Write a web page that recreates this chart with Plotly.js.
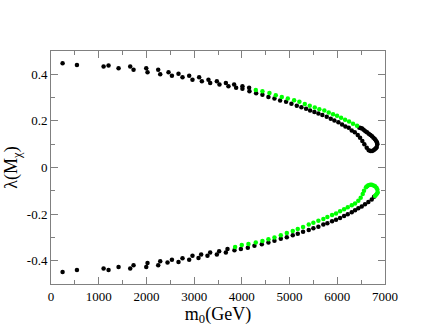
<!DOCTYPE html>
<html>
<head>
<meta charset="utf-8">
<script src="https://cdn.plot.ly/plotly-3.0.1.min.js"></script>
<style>
  html, body { margin: 0; padding: 0; background: #fff; }
  #chart { width: 433px; height: 335px; }
</style>
</head>
<body>
<div id="chart"></div>
<script>
// upper branch, black points (two rows on the left, then the loop at the tip)
const upperBlackX = [243, 544, 1102, 1206, 1416, 1660, 1730, 1996, 2023, 2247, 2289, 2463, 2534, 2672, 2756,
  2896, 2965, 3105, 3162, 3300, 3336, 3476, 3531, 3665, 3719, 3838, 3880, 4012, 4012, 4152,
  4159, 4299, 4431, 4557, 4683, 4802, 4927, 5039, 5151, 5248, 5346, 5430, 5520, 5604, 5687,
  5779, 5863, 5939, 6023, 6100, 6170, 6240, 6303, 6366, 6429, 6477, 6525, 6567, 6617, 6659,
  6695, 6728, 6760, 6785, 6810, 6827, 6839, 6835, 6827, 6808, 6785, 6758, 6728, 6695, 6659,
  6622, 6588, 6552, 6519, 6490, 6463];
const upperBlackY = [0.447, 0.440, 0.433, 0.438, 0.426, 0.433, 0.419, 0.426, 0.409, 0.419, 0.400, 0.409, 0.394, 0.402, 0.387,
  0.394, 0.377, 0.387, 0.370, 0.377, 0.363, 0.370, 0.356, 0.363, 0.349, 0.356, 0.342, 0.349, 0.338, 0.342,
  0.327, 0.319, 0.312, 0.303, 0.296, 0.288, 0.282, 0.274, 0.265, 0.259, 0.252, 0.245, 0.238, 0.232, 0.225,
  0.218, 0.209, 0.202, 0.194, 0.185, 0.176, 0.171, 0.159, 0.151, 0.139, 0.128, 0.114, 0.100, 0.085, 0.074,
  0.071, 0.071, 0.074, 0.078, 0.083, 0.088, 0.100, 0.105, 0.109, 0.116, 0.122, 0.128, 0.134, 0.140, 0.145,
  0.151, 0.156, 0.162, 0.167, 0.169, 0.171];

// upper branch, green points
const upperGreenX = [4292, 4431, 4578, 4711, 4837, 4963, 5095, 5206, 5319, 5423, 5528, 5624, 5729, 5821, 5911,
  5995, 6079, 6163, 6247, 6330, 6414];
const upperGreenY = [0.333, 0.327, 0.320, 0.310, 0.303, 0.296, 0.289, 0.282, 0.272, 0.265, 0.258, 0.250, 0.245, 0.236, 0.229,
  0.222, 0.214, 0.205, 0.197, 0.188, 0.179];

// lower branch, black points
const lowerBlackX = [243, 544, 1102, 1206, 1416, 1660, 1730, 1996, 2023, 2247, 2289, 2442, 2534, 2672, 2756,
  2896, 2965, 3091, 3147, 3279, 3336, 3476, 3524, 3665, 3699, 3845, 3979, 4125, 4264, 4418,
  4557, 4683, 4816, 4942, 5067, 5172, 5283, 5402, 5499, 5604, 5708, 5792, 5890, 5974, 6058,
  6142, 6219, 6303, 6372, 6441, 6512, 6581, 6651, 6722, 6770];
const lowerBlackY = [-0.449, -0.440, -0.433, -0.440, -0.427, -0.433, -0.419, -0.427, -0.410, -0.420, -0.402, -0.408, -0.396, -0.406, -0.389,
  -0.396, -0.379, -0.388, -0.373, -0.379, -0.365, -0.373, -0.359, -0.365, -0.350, -0.355, -0.350, -0.344, -0.336, -0.329,
  -0.322, -0.314, -0.306, -0.299, -0.291, -0.284, -0.276, -0.268, -0.261, -0.254, -0.245, -0.239, -0.231, -0.224, -0.217,
  -0.208, -0.201, -0.192, -0.184, -0.175, -0.167, -0.158, -0.148, -0.137, -0.126];

// lower branch, green points (with the loop at the tip)
const lowerGreenX = [3859, 3998, 4138, 4292, 4431, 4557, 4683, 4816, 4942, 5067, 5172, 5283, 5402, 5499, 5604,
  5708, 5792, 5890, 5974, 6058, 6142, 6219, 6303, 6372, 6441, 6491, 6533, 6560, 6602, 6625,
  6651, 6690, 6722, 6760, 6791, 6820, 6839, 6847, 6835, 6812, 6790];
const lowerGreenY = [-0.341, -0.333, -0.328, -0.322, -0.315, -0.308, -0.300, -0.291, -0.281, -0.272, -0.264, -0.255, -0.245, -0.237, -0.229,
  -0.221, -0.212, -0.204, -0.197, -0.188, -0.179, -0.171, -0.162, -0.154, -0.143, -0.130, -0.114, -0.100, -0.085, -0.080,
  -0.076, -0.074, -0.074, -0.077, -0.080, -0.087, -0.094, -0.106, -0.112, -0.117, -0.122];

const xTicks = [0, 1000, 2000, 3000, 4000, 5000, 6000, 7000];
const yTicks = [-0.4, -0.2, 0, 0.2, 0.4];
const yTickText = ['-0.4', '-0.2', '0', '0.2', '0.4'];

const dot = (x, y, color) => ({
  x: x,
  y: y,
  type: 'scatter',
  mode: 'markers',
  marker: { color: color, size: 4.5 },
  hoverinfo: 'x+y'
});

const traces = [
  dot(upperBlackX, upperBlackY, '#000000'),
  dot(upperGreenX, upperGreenY, '#00ff00'),
  dot(lowerBlackX, lowerBlackY, '#000000'),
  dot(lowerGreenX, lowerGreenY, '#00ff00')
];

const axisCommon = {
  showgrid: false,
  zeroline: false,
  showline: true,
  linecolor: '#808080',
  linewidth: 1,
  mirror: 'ticks',
  ticks: 'inside',
  ticklen: 7,
  tickcolor: '#808080',
  tickfont: { family: 'Liberation Serif, serif', size: 13, color: '#000' }
};

const layout = {
  width: 433,
  height: 335,
  showlegend: false,
  paper_bgcolor: '#ffffff',
  plot_bgcolor: '#ffffff',
  margin: { t: 51, b: 51, l: 51, r: 48 },
  xaxis: Object.assign({}, axisCommon, {
    range: [0, 7000],
    tickvals: xTicks,
    minor: { dtick: 500, ticks: 'inside', ticklen: 4, tickcolor: '#808080' },
    title: { text: 'm<sub>0</sub>(GeV)', font: { family: 'Liberation Serif, serif', size: 18, color: '#000' }, standoff: 4 }
  }),
  yaxis: Object.assign({}, axisCommon, {
    range: [-0.5, 0.5],
    tickvals: yTicks,
    ticktext: yTickText,
    minor: { dtick: 0.1, ticks: 'inside', ticklen: 4, tickcolor: '#808080' },
    title: { text: 'λ(M<sub>χ</sub>)', font: { family: 'Liberation Serif, serif', size: 18, color: '#000' }, standoff: 4 }
  })
};

Plotly.newPlot('chart', traces, layout, { displayModeBar: false, staticPlot: true });
</script>
</body>
</html>
